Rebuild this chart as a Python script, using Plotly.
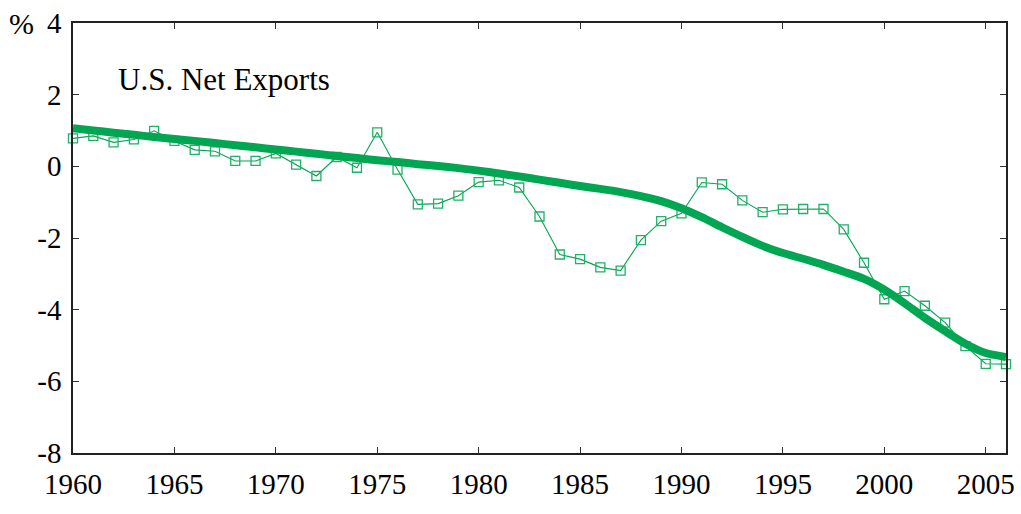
import plotly.graph_objects as go

years = list(range(1960, 2007))
net_exports = [0.78, 0.85, 0.67, 0.75, 0.99, 0.71, 0.46, 0.42, 0.15, 0.15,
               0.36, 0.05, -0.27, 0.26, -0.04, 0.95, -0.09, -1.06, -1.04, -0.82,
               -0.44, -0.39, -0.59, -1.40, -2.46, -2.59, -2.82, -2.91, -2.06, -1.53,
               -1.31, -0.45, -0.50, -0.95, -1.28, -1.20, -1.19, -1.19, -1.76, -2.69,
               -3.71, -3.48, -3.89, -4.36, -5.02, -5.51, -5.52]
trend = [1.06, 1.00, 0.94, 0.88, 0.82, 0.76, 0.71, 0.65, 0.59, 0.53,
         0.47, 0.41, 0.35, 0.29, 0.23, 0.17, 0.12, 0.06, 0.01, -0.05,
         -0.12, -0.20, -0.28, -0.37, -0.46, -0.55, -0.63, -0.72, -0.83, -0.97,
         -1.17, -1.42, -1.70, -1.97, -2.22, -2.42, -2.58, -2.75, -2.94, -3.14,
         -3.44, -3.82, -4.23, -4.60, -4.95, -5.21, -5.32]
y_ticks = [-8, -6, -4, -2, 0, 2, 4]
y_tick_text = ["-8", "-6", "-4", "-2", "0", "2", "4"]
x_ticks = [1960, 1965, 1970, 1975, 1980, 1985, 1990, 1995, 2000, 2005]

green = "#00a651"
font = "Liberation Serif, Times New Roman, serif"

fig = go.Figure()
fig.add_trace(go.Scatter(
    x=years, y=net_exports, mode="lines+markers",
    line=dict(color=green, width=1.1),
    marker=dict(symbol="square-open", size=9, color="#22b068", line=dict(width=1.3)),
    showlegend=False, cliponaxis=False))
fig.add_trace(go.Scatter(
    x=years, y=trend, mode="lines",
    line=dict(color=green, width=8, shape="spline", smoothing=0.6),
    showlegend=False))

fig.update_layout(
    width=1021, height=514,
    margin=dict(l=73, r=15, t=23, b=61),
    plot_bgcolor="white", paper_bgcolor="white",
    font=dict(family=font, size=29, color="black"),
    xaxis=dict(range=[1960, 2006], tickvals=x_ticks, ticks="inside", ticklen=6,
               tickcolor="#333", showline=True, linecolor="#222", linewidth=1.5,
               mirror="ticks", showgrid=False, zeroline=False, automargin=False,
               tickfont=dict(family=font, size=29), ticklabelstandoff=4),
    yaxis=dict(range=[-8, 4], tickvals=y_ticks, ticktext=y_tick_text, ticks="inside",
               ticklen=6, tickcolor="#333", showline=True, linecolor="#222", linewidth=1.5,
               mirror="ticks", showgrid=False, zeroline=False, automargin=False,
               tickfont=dict(family=font, size=29), ticklabelstandoff=4),
    annotations=[
        dict(text="U.S. Net Exports", xref="paper", yref="paper", x=0.046, y=0.868,
             xanchor="left", yanchor="middle", showarrow=False,
             font=dict(family=font, size=31)),
        dict(text="%", xref="paper", yref="paper", x=-0.040, y=1.0,
             xanchor="right", yanchor="middle", showarrow=False,
             font=dict(family=font, size=30)),
    ],
)

fig.write_html("out.html", config={"displayModeBar": False},
               post_script="document.body.style.margin='0';document.body.style.padding='0';")
